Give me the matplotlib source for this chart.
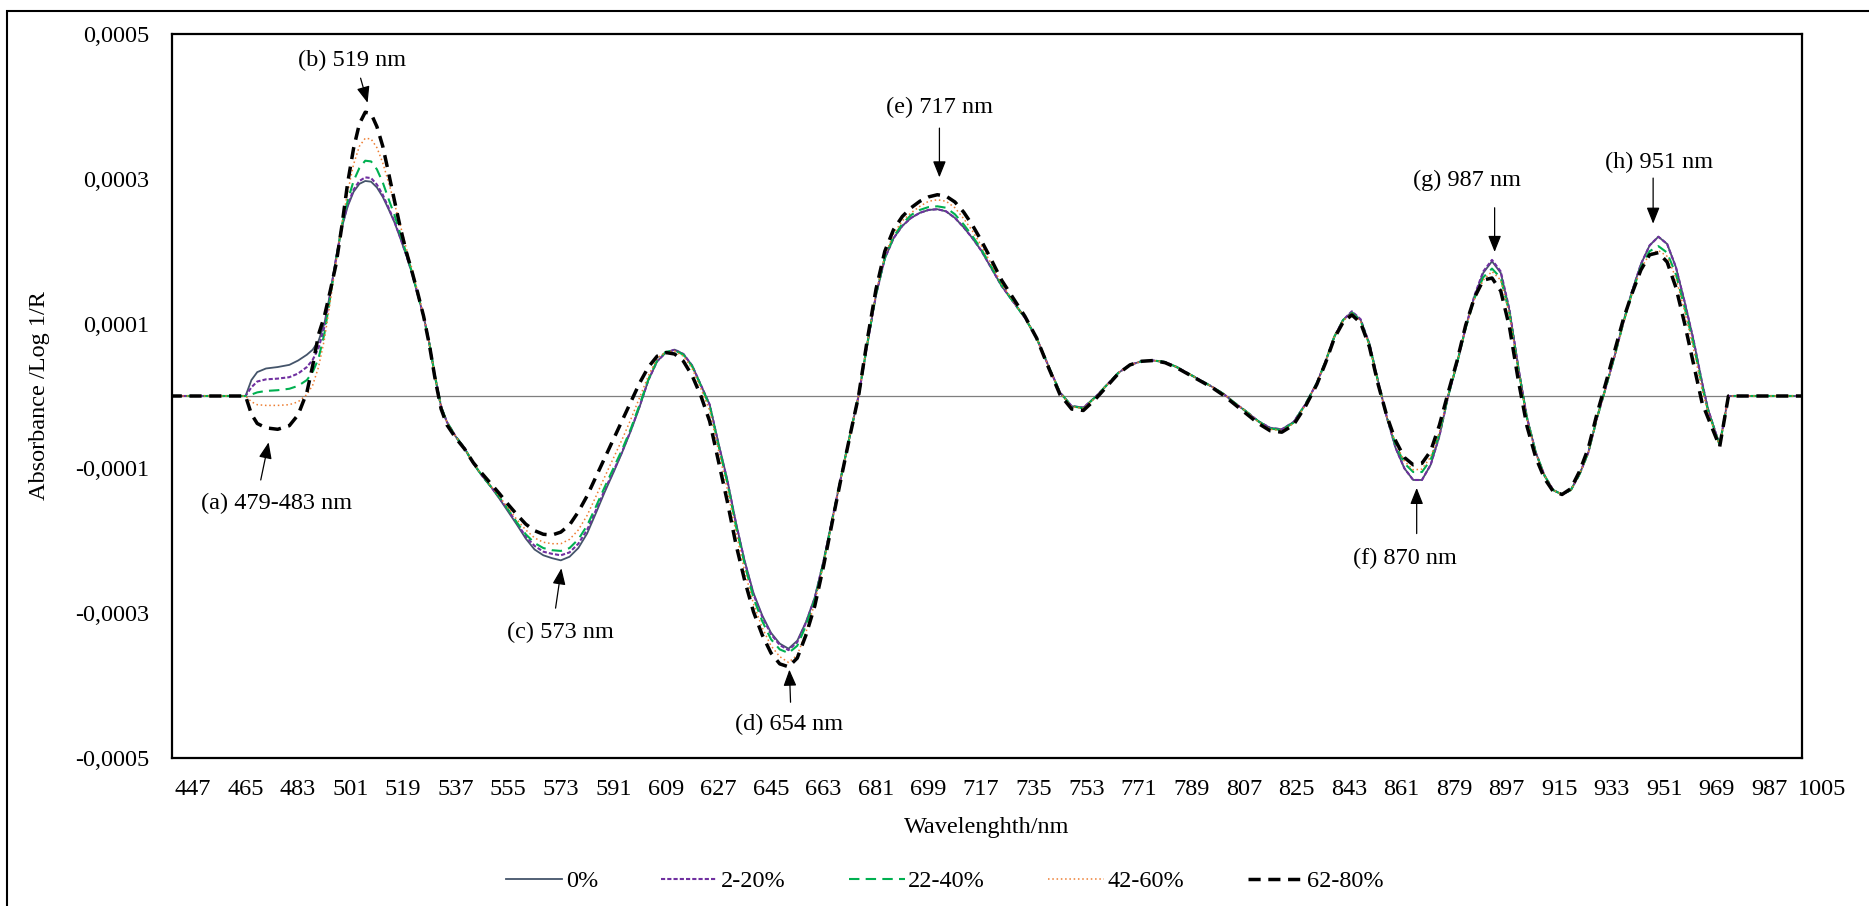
import matplotlib
matplotlib.use("Agg")
import matplotlib.pyplot as plt
from matplotlib.patches import Rectangle

plt.rcParams['font.family'] = ['Liberation Serif', 'DejaVu Serif']

# Wavelength grid (nm) shared by all series
wavelength = [
    439, 465, 467, 469, 472, 476, 480, 483, 486, 488,
    490, 492, 494, 496, 498, 500, 502, 504, 506, 508,
    510, 512, 514, 516, 518, 520, 522, 524, 526, 528,
    530, 532, 534, 537, 540, 543, 546, 549, 552, 555,
    558, 561, 564, 567, 570, 573, 576, 579, 582, 585,
    588, 591, 594, 597, 600, 603, 606, 609, 612, 615,
    618, 621, 624, 627, 630, 633, 636, 639, 642, 645,
    648, 651, 654, 657, 660, 663, 666, 669, 672, 675,
    678, 681, 684, 687, 690, 693, 696, 699, 702, 705,
    708, 711, 714, 717, 720, 724, 728, 732, 736, 740,
    744, 748, 752, 756, 760, 764, 768, 772, 776, 780,
    784, 788, 792, 796, 800, 804, 808, 812, 816, 820,
    824, 828, 832, 835, 838, 841, 844, 847, 850, 853,
    856, 859, 862, 865, 868, 871, 874, 877, 880, 883,
    886, 889, 892, 895, 898, 901, 904, 907, 910, 913,
    916, 919, 922, 925, 928, 931, 934, 937, 940, 943,
    946, 949, 952, 955, 958, 961, 964, 966, 970, 973,
    999,
]

# Second-derivative absorbance, in units of 1e-4
abs_0 = [
    0, 0, 0.22, 0.33, 0.38, 0.40, 0.43, 0.49, 0.57, 0.64,
    0.76, 1.00, 1.42, 1.90, 2.33, 2.62, 2.82, 2.93, 2.97, 2.96,
    2.88, 2.75, 2.58, 2.40, 2.18, 1.95, 1.70, 1.40, 1.10, 0.72,
    0.25, -0.15, -0.36, -0.56, -0.72, -0.93, -1.10, -1.25, -1.42, -1.60,
    -1.78, -1.97, -2.12, -2.20, -2.24, -2.27, -2.22, -2.10, -1.90, -1.62,
    -1.33, -1.06, -0.78, -0.48, -0.15, 0.22, 0.48, 0.60, 0.64, 0.58,
    0.42, 0.15, -0.12, -0.65, -1.15, -1.75, -2.28, -2.72, -3.03, -3.27,
    -3.42, -3.49, -3.38, -3.12, -2.78, -2.28, -1.70, -1.12, -0.55, 0.00,
    0.72, 1.40, 1.90, 2.18, 2.35, 2.46, 2.53, 2.57, 2.58, 2.55,
    2.46, 2.33, 2.18, 2.01, 1.80, 1.52, 1.30, 1.08, 0.80, 0.42,
    0.05, -0.14, -0.16, -0.02, 0.15, 0.32, 0.43, 0.48, 0.49, 0.47,
    0.40, 0.31, 0.22, 0.13, 0.03, -0.10, -0.22, -0.35, -0.44, -0.46,
    -0.36, -0.12, 0.18, 0.48, 0.82, 1.05, 1.16, 1.05, 0.72, 0.20,
    -0.30, -0.72, -1.00, -1.16, -1.16, -0.95, -0.55, 0.00, 0.45, 0.95,
    1.38, 1.70, 1.86, 1.70, 1.18, 0.40, -0.30, -0.78, -1.10, -1.30,
    -1.36, -1.30, -1.08, -0.78, -0.30, 0.12, 0.55, 1.02, 1.45, 1.82,
    2.08, 2.20, 2.10, 1.78, 1.30, 0.78, 0.18, -0.18, -0.68, 0.00,
    0.00,
]

abs_2_20 = [
    0, 0, 0.12, 0.20, 0.23, 0.24, 0.26, 0.31, 0.40, 0.50,
    0.66, 0.95, 1.40, 1.90, 2.34, 2.64, 2.85, 2.97, 3.02, 3.01,
    2.92, 2.78, 2.60, 2.41, 2.19, 1.95, 1.70, 1.40, 1.10, 0.72,
    0.25, -0.15, -0.36, -0.56, -0.72, -0.93, -1.10, -1.25, -1.41, -1.58,
    -1.76, -1.94, -2.07, -2.15, -2.18, -2.20, -2.16, -2.04, -1.85, -1.58,
    -1.30, -1.04, -0.77, -0.47, -0.14, 0.22, 0.48, 0.60, 0.64, 0.58,
    0.42, 0.15, -0.12, -0.66, -1.16, -1.76, -2.29, -2.74, -3.05, -3.29,
    -3.44, -3.51, -3.40, -3.13, -2.79, -2.28, -1.70, -1.12, -0.55, 0.00,
    0.72, 1.40, 1.90, 2.18, 2.35, 2.46, 2.53, 2.57, 2.58, 2.55,
    2.46, 2.33, 2.18, 2.01, 1.80, 1.52, 1.30, 1.08, 0.80, 0.42,
    0.05, -0.14, -0.16, -0.02, 0.15, 0.32, 0.43, 0.48, 0.49, 0.47,
    0.40, 0.31, 0.22, 0.13, 0.03, -0.10, -0.22, -0.35, -0.44, -0.46,
    -0.36, -0.12, 0.18, 0.48, 0.82, 1.05, 1.17, 1.06, 0.72, 0.20,
    -0.30, -0.72, -1.00, -1.16, -1.16, -0.95, -0.55, 0.00, 0.45, 0.95,
    1.39, 1.72, 1.88, 1.72, 1.19, 0.40, -0.30, -0.78, -1.10, -1.30,
    -1.36, -1.30, -1.08, -0.78, -0.30, 0.12, 0.55, 1.02, 1.45, 1.82,
    2.08, 2.20, 2.10, 1.78, 1.30, 0.78, 0.18, -0.18, -0.68, 0.00,
    0.00,
]

abs_22_40 = [
    0, 0, 0.02, 0.05, 0.07, 0.08, 0.10, 0.14, 0.22, 0.33,
    0.52, 0.86, 1.36, 1.88, 2.36, 2.70, 2.97, 3.15, 3.25, 3.24,
    3.13, 2.95, 2.72, 2.50, 2.24, 1.98, 1.71, 1.40, 1.10, 0.72,
    0.25, -0.15, -0.36, -0.56, -0.72, -0.93, -1.10, -1.25, -1.40, -1.57,
    -1.75, -1.91, -2.03, -2.10, -2.13, -2.14, -2.10, -1.98, -1.79, -1.53,
    -1.26, -1.00, -0.74, -0.45, -0.12, 0.23, 0.49, 0.61, 0.63, 0.57,
    0.41, 0.14, -0.14, -0.68, -1.19, -1.80, -2.33, -2.79, -3.11, -3.36,
    -3.50, -3.55, -3.45, -3.17, -2.81, -2.30, -1.71, -1.12, -0.55, 0.00,
    0.72, 1.41, 1.91, 2.20, 2.38, 2.50, 2.57, 2.61, 2.62, 2.60,
    2.51, 2.37, 2.21, 2.03, 1.82, 1.53, 1.30, 1.08, 0.80, 0.42,
    0.05, -0.14, -0.17, -0.02, 0.15, 0.32, 0.43, 0.48, 0.49, 0.47,
    0.40, 0.31, 0.22, 0.13, 0.03, -0.10, -0.22, -0.35, -0.45, -0.47,
    -0.37, -0.12, 0.18, 0.48, 0.82, 1.05, 1.15, 1.04, 0.71, 0.19,
    -0.29, -0.68, -0.93, -1.05, -1.05, -0.88, -0.52, 0.00, 0.45, 0.94,
    1.35, 1.64, 1.76, 1.63, 1.14, 0.38, -0.31, -0.78, -1.10, -1.30,
    -1.36, -1.30, -1.08, -0.78, -0.30, 0.12, 0.55, 1.01, 1.43, 1.78,
    2.00, 2.07, 1.98, 1.68, 1.22, 0.72, 0.13, -0.20, -0.68, 0.00,
    0.00,
]

abs_42_60 = [
    0, 0, -0.08, -0.12, -0.13, -0.13, -0.12, -0.08, 0.02, 0.15,
    0.40, 0.78, 1.30, 1.85, 2.38, 2.82, 3.20, 3.45, 3.56, 3.55,
    3.43, 3.22, 2.95, 2.66, 2.36, 2.05, 1.76, 1.43, 1.11, 0.72,
    0.25, -0.15, -0.36, -0.56, -0.72, -0.93, -1.09, -1.24, -1.39, -1.55,
    -1.71, -1.85, -1.96, -2.02, -2.04, -2.04, -1.98, -1.85, -1.65, -1.39,
    -1.12, -0.86, -0.60, -0.32, -0.02, 0.28, 0.52, 0.61, 0.62, 0.55,
    0.38, 0.10, -0.20, -0.75, -1.28, -1.88, -2.42, -2.87, -3.20, -3.45,
    -3.60, -3.68, -3.58, -3.26, -2.86, -2.32, -1.72, -1.13, -0.56, 0.00,
    0.73, 1.43, 1.94, 2.24, 2.42, 2.53, 2.62, 2.69, 2.71, 2.69,
    2.60, 2.45, 2.28, 2.08, 1.86, 1.55, 1.31, 1.08, 0.80, 0.42,
    0.05, -0.15, -0.17, -0.03, 0.15, 0.32, 0.43, 0.48, 0.49, 0.47,
    0.40, 0.31, 0.22, 0.13, 0.03, -0.10, -0.22, -0.36, -0.46, -0.48,
    -0.38, -0.13, 0.18, 0.48, 0.82, 1.04, 1.14, 1.03, 0.70, 0.18,
    -0.29, -0.66, -0.90, -1.02, -1.01, -0.84, -0.50, 0.01, 0.46, 0.94,
    1.34, 1.60, 1.72, 1.60, 1.13, 0.36, -0.32, -0.79, -1.10, -1.30,
    -1.36, -1.30, -1.08, -0.78, -0.30, 0.12, 0.55, 1.00, 1.42, 1.76,
    1.96, 2.01, 1.93, 1.63, 1.17, 0.66, 0.08, -0.22, -0.69, 0.00,
    0.00,
]

abs_62_80 = [
    0, 0, -0.25, -0.38, -0.44, -0.46, -0.41, -0.26, 0.05, 0.42,
    0.85, 1.10, 1.45, 1.82, 2.35, 2.95, 3.42, 3.76, 3.92, 3.90,
    3.72, 3.45, 3.08, 2.70, 2.33, 2.00, 1.72, 1.42, 1.10, 0.70,
    0.22, -0.18, -0.40, -0.58, -0.73, -0.92, -1.07, -1.21, -1.35, -1.50,
    -1.64, -1.77, -1.86, -1.91, -1.92, -1.88, -1.78, -1.60, -1.38, -1.12,
    -0.86, -0.60, -0.34, -0.08, 0.18, 0.40, 0.55, 0.60, 0.58, 0.48,
    0.28, 0.00, -0.35, -0.90, -1.45, -2.05, -2.55, -2.98, -3.30, -3.55,
    -3.70, -3.74, -3.62, -3.30, -2.90, -2.35, -1.74, -1.14, -0.56, 0.00,
    0.78, 1.48, 2.00, 2.30, 2.48, 2.60, 2.69, 2.75, 2.78, 2.76,
    2.68, 2.54, 2.36, 2.15, 1.92, 1.60, 1.35, 1.10, 0.80, 0.40,
    0.02, -0.18, -0.20, -0.05, 0.13, 0.31, 0.43, 0.48, 0.49, 0.46,
    0.39, 0.30, 0.21, 0.12, 0.01, -0.12, -0.25, -0.38, -0.48, -0.50,
    -0.40, -0.15, 0.16, 0.46, 0.80, 1.02, 1.12, 1.01, 0.68, 0.16,
    -0.28, -0.62, -0.85, -0.95, -0.93, -0.76, -0.40, 0.05, 0.48, 0.98,
    1.36, 1.60, 1.63, 1.45, 0.95, 0.22, -0.42, -0.85, -1.14, -1.32,
    -1.36, -1.28, -1.04, -0.72, -0.24, 0.18, 0.62, 1.06, 1.42, 1.74,
    1.95, 1.98, 1.85, 1.50, 1.00, 0.45, -0.10, -0.30, -0.70, 0.00,
    0.00,
]

series_labels = ['0%', '2-20%', '22-40%', '42-60%', '62-80%']
series_values = [abs_0, abs_2_20, abs_22_40, abs_42_60, abs_62_80]

x_tick_labels = [447, 465, 483, 501, 519, 537, 555, 573, 591, 609, 627,
                 645, 663, 681, 699, 717, 735, 753, 771, 789, 807, 825,
                 843, 861, 879, 897, 915, 933, 951, 969, 987, 1005]
y_tick_values = [-0.0005, -0.0003, -0.0001, 0.0001, 0.0003, 0.0005]
y_tick_labels = ['-0,0005', '-0,0003', '-0,0001', '0,0001', '0,0003', '0,0005']

peak_labels = ['(a) 479-483 nm', '(b) 519 nm', '(c) 573 nm', '(d) 654 nm',
               '(e) 717 nm', '(f) 870 nm', '(g) 987 nm', '(h) 951 nm']

UNIT = 1e-4
FS = 17.5

line_styles = [
    dict(color='#44546A', lw=1.3, ls='-'),
    dict(color='#7030A0', lw=1.5, ls=(0, (2, 1))),
    dict(color='#00B050', lw=1.5, ls=(0, (5, 3))),
    dict(color='#ED7D31', lw=1.1, ls=(0, (1, 1.8))),
    dict(color='#000000', lw=2.5, ls=(0, (3.5, 2.2))),
]

W, H = 1869, 906
fig = plt.figure(figsize=(W / 100, H / 100), dpi=100)
ax = fig.add_axes([172 / W, (H - 758) / H, 1630 / W, 724 / H])

ax.axhline(0, color='#7f7f7f', lw=0.9, zorder=1)

handles = []
for label, vals, st in zip(series_labels, series_values, line_styles):
    (h,) = ax.plot(wavelength, [v * UNIT for v in vals], color=st['color'],
                   lw=st['lw'], linestyle=st['ls'], label=label, zorder=2)
    handles.append(h)

ax.set_xlim(439.8, 998.2)
ax.set_ylim(-0.0005, 0.0005)

inside = [t for t in x_tick_labels if t <= 998.2]
ax.set_xticks(inside)
ax.set_xticklabels([str(t) for t in inside], fontsize=FS)
X_PAD = 15
ax.tick_params(axis='x', length=0, pad=X_PAD)
for t in x_tick_labels:
    if t > 998.2:
        ax.annotate(str(t), xy=(t, 0), xycoords=('data', 'axes fraction'),
                    xytext=(0, -X_PAD), textcoords='offset points',
                    ha='center', va='top', fontsize=FS, annotation_clip=False)

ax.set_yticks(y_tick_values)
ax.set_yticklabels(y_tick_labels, fontsize=FS)
ax.tick_params(axis='y', length=0, pad=16.5)

for sp in ax.spines.values():
    sp.set_linewidth(1.6)
    sp.set_color('black')

# Peak annotations: text centre, arrow tail, arrow tip (data coordinates)
annot_layout = [
    ((475.7, -1.478e-4), (470.2, -1.16e-4), (472.9, -0.64e-4)),
    ((501.4, 4.64e-4), (504.4, 4.39e-4), (506.8, 4.05e-4)),
    ((572.9, -3.26e-4), (571.2, -2.93e-4), (573.2, -2.38e-4)),
    ((651.2, -4.54e-4), (651.7, -4.23e-4), (651.3, -3.78e-4)),
    ((702.8, 3.98e-4), (702.7, 3.70e-4), (702.7, 3.02e-4)),
    ((862.1, -2.24e-4), (866.2, -1.90e-4), (866.2, -1.27e-4)),
    ((883.6, 2.98e-4), (892.9, 2.60e-4), (892.9, 1.99e-4)),
    ((949.2, 3.23e-4), (947.2, 3.01e-4), (947.2, 2.38e-4)),
]
for text, (txy, tail, tip) in zip(peak_labels, annot_layout):
    ax.text(txy[0], txy[1], text, ha='center', va='center', fontsize=FS, zorder=5)
    ax.annotate('', xy=tip, xytext=tail,
                arrowprops=dict(arrowstyle='-|>,head_length=0.45,head_width=0.18',
                                color='black', lw=0.9, mutation_scale=22,
                                shrinkA=0, shrinkB=0), zorder=5)

fig.text(39 / W, (H - 396) / H, 'Absorbance /Log 1/R', rotation=90,
         ha='center', va='center', fontsize=FS)
fig.text(987 / W, (H - 827) / H, 'Wavelenghth/nm', ha='center', va='center',
         fontsize=FS)

fig.legend(handles, series_labels, loc='center',
           bbox_to_anchor=(945 / W, (H - 881) / H), ncol=5, frameon=False,
           fontsize=FS, handlelength=2.3, handletextpad=0.15, columnspacing=2.6)

# Chart-area border
fig.add_artist(Rectangle((7 / W, -0.05), 1.1, (H - 11) / H + 0.05,
                         transform=fig.transFigure, fill=False, lw=1.5,
                         ec='black'))

fig.savefig('out.png', dpi=100)
